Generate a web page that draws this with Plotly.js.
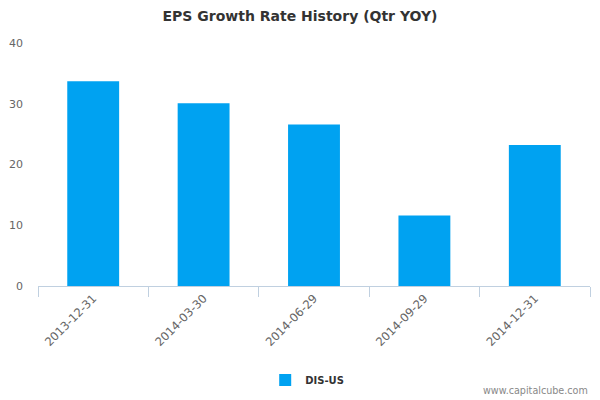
<!DOCTYPE html>
<html>
<head>
<meta charset="utf-8">
<script src="https://cdn.plot.ly/plotly-3.0.1.min.js"></script>
<style>html,body{margin:0;padding:0;background:#fff;}#chart{width:600px;height:400px;}</style>
</head>
<body>
<div id="chart"></div>
<script>
var categories = ["2013-12-31", "2014-03-30", "2014-06-29", "2014-09-29", "2014-12-31"];
var values = [33.7, 30.1, 26.6, 11.6, 23.2];
var seriesName = "DIS-US";
var yTicks = [0, 10, 20, 30, 40];

var trace = {
  type: "bar",
  x: categories,
  y: values,
  name: seriesName,
  marker: {color: "#00a2f1"},
  showlegend: true,
  hoverinfo: "x+y"
};

var layout = {
  width: 600,
  height: 400,
  margin: {l: 38, r: 10, t: 43, b: 114},
  paper_bgcolor: "#ffffff",
  plot_bgcolor: "#ffffff",
  font: {family: "DejaVu Sans, Verdana, sans-serif", color: "#666666", size: 11},
  title: {
    text: "EPS Growth Rate History (Qtr YOY)",
    font: {family: "DejaVu Sans, Verdana, sans-serif", size: 14, color: "#333333", weight: "bold"},
    x: 0.5, xanchor: "center", y: 0.96, yanchor: "middle", yref: "container"
  },
  bargap: 0.53,
  xaxis: {
    type: "category",
    tickson: "boundaries",
    ticks: "outside",
    ticklen: 10,
    tickcolor: "#c0d0e0",
    showline: true,
    linecolor: "#c0d0e0",
    linewidth: 1,
    showgrid: false,
    zeroline: false,
    tickangle: -45,
    tickfont: {size: 11.6, color: "#666666"}
  },
  yaxis: {
    range: [0, 40],
    tickvals: yTicks,
    showgrid: false,
    zeroline: false,
    showline: false,
    ticks: "",
    ticklabelstandoff: 14,
    tickfont: {size: 11, color: "#666666"}
  },
  legend: {
    orientation: "h",
    x: 0.512, xanchor: "center", xref: "container",
    y: 0.05, yanchor: "middle", yref: "container",
    font: {size: 10, color: "#333333", family: "DejaVu Sans, Verdana, sans-serif", weight: "bold"}
  },
  annotations: [{
    text: "www.capitalcube.com",
    xref: "paper", yref: "paper",
    x: 1.0, xanchor: "right",
    y: -0.43, yanchor: "middle",
    showarrow: false,
    font: {size: 9.6, color: "#888888", family: "DejaVu Sans, Verdana, sans-serif"}
  }]
};

Plotly.newPlot("chart", [trace], layout, {displayModeBar: false, staticPlot: true});
</script>
</body>
</html>
